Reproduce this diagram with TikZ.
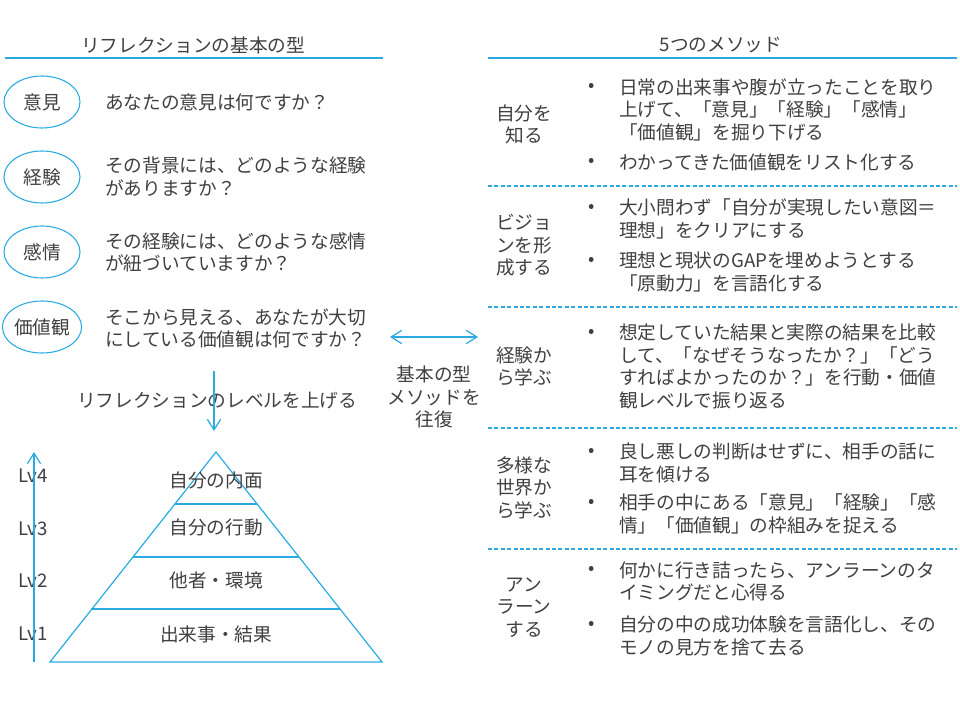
\documentclass[tikz,border=0pt]{standalone}
\usepackage{fontspec}
\setmainfont{Noto Sans CJK JP}
\usetikzlibrary{arrows.meta,shapes.geometric}
\definecolor{lb}{RGB}{41,171,226}
\definecolor{tx}{RGB}{64,64,64}
\begin{document}
\begin{tikzpicture}[x=0.75pt,y=-0.75pt,
  txt/.style={text=tx,font=\fontsize{14}{16.9}\selectfont,inner sep=0pt},
  lt/.style={txt,anchor=west,align=left},
  ct/.style={txt,align=center},
  rule/.style={draw=lb,line width=1pt},
  dashrule/.style={draw=lb,line width=0.9pt,dash pattern=on 3pt off 1.8pt},
  oval/.style={txt,draw=lb,line width=0.8pt,ellipse,minimum width=57pt,minimum height=39pt},
  pyr/.style={draw=lb,line width=0.9pt},
  arr/.style={draw=lb,line width=0.9pt,-{Straight Barb[length=8pt,width=10pt,line width=0.9pt]}},
  darr/.style={draw=lb,line width=0.9pt,{Straight Barb[length=8pt,width=10pt,line width=0.9pt]}-{Straight Barb[length=8pt,width=10pt,line width=0.9pt]}},
  bul/.style={txt}
]
\useasboundingbox (0,0) rectangle (960,720);
\fill[white] (0,0) rectangle (960,720);

% titles
\node[ct] (tl) at (193,45) {リフレクションの基本の型};
\node[ct] (tr) at (721,45) {5つのメソッド};
\coordinate (tla) at (5,58); \coordinate (tlb) at (383,58);
\coordinate (tra) at (488,58); \coordinate (trb) at (957,58);
\draw[rule] (tla) -- (tlb);
\draw[rule] (tra) -- (trb);

% left: ellipses and questions
\node[oval] (e1) at (42,102) {意見};
\node[oval] (e2) at (42,177) {経験};
\node[oval] (e3) at (42,252) {感情};
\node[oval] (e4) at (42,327) {価値観};
\node[lt] (q1) at (105,102) {あなたの意見は何ですか？};
\node[lt] (q2) at (105,176.5) {その背景には、どのような経験\\がありますか？};
\node[lt] (q3) at (105,252.5) {その経験には、どのような感情\\が紐づいていますか？};
\node[lt] (q4) at (105,328.5) {そこから見える、あなたが大切\\にしている価値観は何ですか？};

% down arrow
\coordinate (da) at (214,371); \coordinate (db) at (214,431);
\node[ct] (lvup) at (217,400) {リフレクションのレベルを上げる};
\draw[arr] (da) -- (db);

% pyramid
\coordinate (pA) at (216,452);
\coordinate (pL) at (50,662);
\coordinate (pR) at (382,662);
\draw[pyr] (pA) -- (pR) -- (pL) -- cycle;
\coordinate (l1a) at (175,504); \coordinate (l1b) at (257,504);
\coordinate (l2a) at (133,557); \coordinate (l2b) at (299,557);
\coordinate (l3a) at (91,609);  \coordinate (l3b) at (340,609);
\draw[pyr] (l1a) -- (l1b);
\draw[pyr] (l2a) -- (l2b);
\draw[pyr] (l3a) -- (l3b);
\node[ct] (p4) at (216,480) {自分の内面};
\node[ct] (p3) at (216,527) {自分の行動};
\node[ct] (p2) at (216,580) {他者・環境};
\node[ct] (p1) at (216,634) {出来事・結果};

% levels
\node[ct] (lv4) at (33,476) {Lv4};
\node[ct] (lv3) at (33,529) {Lv3};
\node[ct] (lv2) at (33,581) {Lv2};
\node[ct] (lv1) at (33,634) {Lv1};
\coordinate (ua) at (34,662); \coordinate (ub) at (34,452);
\draw[arr] (ua) -- (ub);

% double arrow
\coordinate (xa) at (390,337); \coordinate (xb) at (478,337);
\draw[darr] (xa) -- (xb);
\node[ct] (ofuku) at (434,397) {基本の型\\メソッドを\\往復};

% right table
\coordinate (d1a) at (488,186); \coordinate (d1b) at (957,186);
\coordinate (d2a) at (488,307); \coordinate (d2b) at (957,307);
\coordinate (d3a) at (488,428); \coordinate (d3b) at (957,428);
\coordinate (d4a) at (488,549); \coordinate (d4b) at (957,549);
\draw[dashrule] (d1a) -- (d1b);
\draw[dashrule] (d2a) -- (d2b);
\draw[dashrule] (d3a) -- (d3b);
\draw[dashrule] (d4a) -- (d4b);

\node[ct] (r1) at (524,124.5) {自分を\\知る};
\node[bul] (b1a) at (592,87) {•};
\node[lt] (t1a) at (619,109.5) {日常の出来事や腹が立ったことを取り\\上げて、「意見」「経験」「感情」\\「価値観」を掘り下げる};
\node[bul] (b1b) at (592,162) {•};
\node[lt] (t1b) at (619,162) {わかってきた価値観をリスト化する};

\node[ct] (r2) at (524,245.5) {ビジョ\\ンを形\\成する};
\node[bul] (b2a) at (592,208) {•};
\node[lt] (t2a) at (619,219) {大小問わず「自分が実現したい意図＝\\理想」をクリアにする};
\node[bul] (b2b) at (592,261) {•};
\node[lt] (t2b) at (619,272) {理想と現状のGAPを埋めようとする\\「原動力」を言語化する};

\node[ct] (r3) at (524,366.5) {経験か\\ら学ぶ};
\node[bul] (b3) at (592,333) {•};
\node[lt] (t3) at (619,366.5) {想定していた結果と実際の結果を比較\\して、「なぜそうなったか？」「どう\\すればよかったのか？」を行動・価値\\観レベルで振り返る};

\node[ct] (r4) at (524,487.5) {多様な\\世界か\\ら学ぶ};
\node[bul] (b4a) at (592,452) {•};
\node[lt] (t4a) at (619,463) {良し悪しの判断はせずに、相手の話に\\耳を傾ける};
\node[bul] (b4b) at (592,503) {•};
\node[lt] (t4b) at (619,514) {相手の中にある「意見」「経験」「感\\情」「価値観」の枠組みを捉える};

\node[ct] (r5) at (524,607.5) {アン\\ラーン\\する};
\node[bul] (b5a) at (592,570) {•};
\node[lt] (t5a) at (619,581.5) {何かに行き詰ったら、アンラーンのタ\\イミングだと心得る};
\node[bul] (b5b) at (592,625) {•};
\node[lt] (t5b) at (619,636) {自分の中の成功体験を言語化し、その\\モノの見方を捨て去る};
\end{tikzpicture}
\end{document}
